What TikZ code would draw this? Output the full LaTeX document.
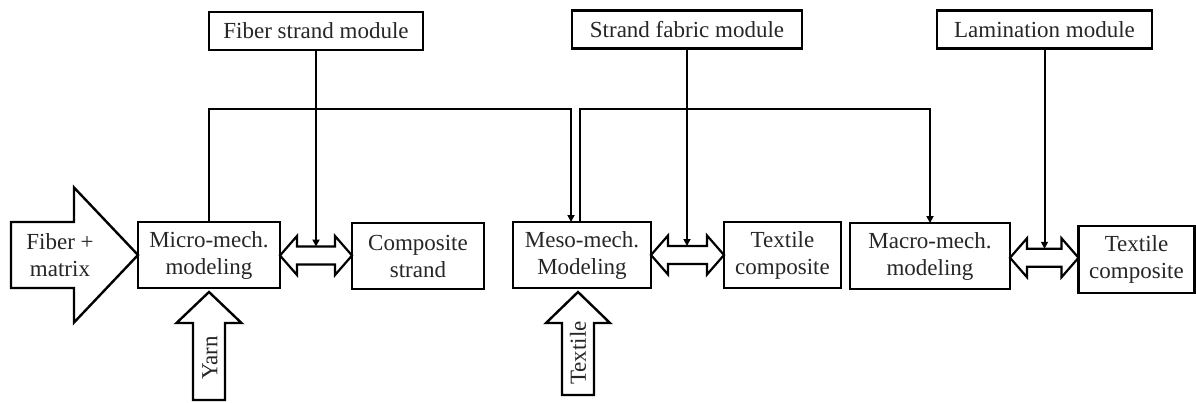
\documentclass[tikz,border=0pt]{standalone}
\usepackage{fontspec}
\setmainfont{Liberation Serif}
\usetikzlibrary{calc,arrows.meta}

% two-headed block arrow between the east side of #1 and the west side of #2;
% #3 names the point midway between them
\newcommand\linkarrow[3]{%
  \coordinate (#3) at ($(#1.east)!0.5!(#2.west)$);
  \draw[twoway] (#1.east |- #3) -- ++(17,-19.5) -- ++(0,10.5)
    -- ($(#2.west |- #3)+(-17,-9)$) -- ++(0,-10.5) -- (#2.west |- #3)
    -- ++(-17,19.5) -- ++(0,-10.5) -- ($(#1.east |- #3)+(17,9)$)
    -- ++(0,10.5) -- cycle;}

\begin{document}
\begin{tikzpicture}[x=1pt,y=-1pt,
  every node/.style={font=\fontsize{23}{27}\selectfont, align=center, text=black!85},
  box/.style={draw, line width=2.4pt, inner sep=0pt, outer sep=0pt},
  module/.style={box, minimum height=38pt},
  block/.style={box, minimum height=66pt},
  wire/.style={line width=2pt, -{Triangle[length=7pt,width=7pt]}},
  blockarrow/.style={draw, line width=2.4pt, line join=miter},
  twoway/.style={draw, line width=2.2pt, line join=miter}]

\useasboundingbox (0,0) rectangle (1196,402);

% module boxes along the top
\node[module, minimum width=214pt] (fsm) at (316,31)      {Fiber strand module};
\node[module, minimum width=230pt] (sfm) at (687,29.5)    {Strand fabric module};
\node[module, minimum width=215pt] (lam) at (1044.5,29.5) {Lamination module};

% modelling chain
\node[block, minimum width=142pt] (micro) at (209,255)   {Micro-mech.\\modeling};
\node[block, minimum width=132pt] (comp)  at (418,256)   {Composite\\strand};
\node[block, minimum width=138pt] (meso)  at (582,255)   {Meso-mech.\\Modeling};
\node[block, minimum width=117pt] (tc1)   at (782.5,255) {Textile\\composite};
\node[block, minimum width=160pt] (macro) at (930,256)   {Macro-mech.\\modeling};
\node[block, minimum width=116pt, minimum height=67pt] (tc2) at (1136.5,259.5) {Textile\\composite};

% two-way links between models and results
\linkarrow{micro}{comp}{c1}
\linkarrow{meso}{tc1}{c2}
\linkarrow{macro}{tc2}{c3}

% modules feeding the links
\draw[wire] (fsm.south) -- ($(fsm.south |- c1)+(0,-9)$);
\draw[wire] (sfm.south) -- ($(sfm.south |- c2)+(0,-9)$);
\draw[wire] (lam.south) -- ($(lam.south |- c3)+(0,-9)$);

% results passed to the next scale
\coordinate (m1) at ($(meso.north)+(-11,0)$);
\coordinate (m2) at ($(meso.north)+(-2,0)$);
\draw[wire] (micro.north) -- (micro.north |- 0,109) -| (m1);
\draw[wire] (m2) -- (m2 |- 0,109) -| (macro.north);

% inputs
\draw[blockarrow] (micro.west) -- ++(-64,-67.5) -- ++(0,34.5) -- ++(-63,0)
  -- ++(0,66) -- ++(63,0) -- ++(0,34.5) -- cycle;
\node (fm) at (60,255) {Fiber +\\matrix};

\coordinate (ytip) at ($(micro.south)+(0,4)$);
\draw[blockarrow] (ytip) -- ++(-32.5,31) -- ++(16.5,0) -- ++(0,77) -- ++(32,0)
  -- ++(0,-77) -- ++(16.5,0) -- cycle;
\node[rotate=90] (yarn) at (210,358) {Yarn};

\coordinate (ttip) at ($(meso.south)+(-4,4)$);
\draw[blockarrow] (ttip) -- ++(-32,31) -- ++(16,0) -- ++(0,72) -- ++(32,0)
  -- ++(0,-72) -- ++(16,0) -- cycle;
\node[rotate=90] (textile) at (578,353) {Textile};
\end{tikzpicture}
\end{document}
